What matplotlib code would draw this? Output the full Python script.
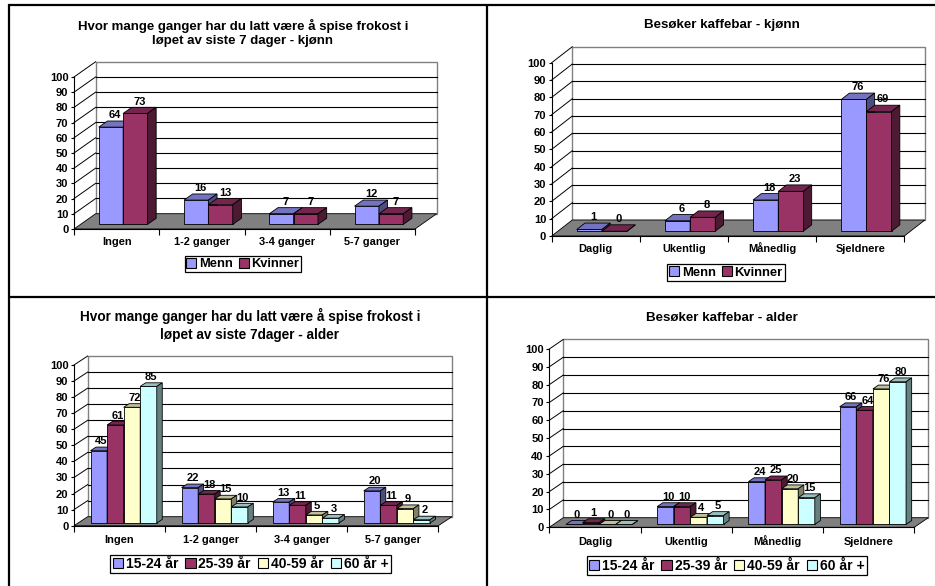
import matplotlib
matplotlib.use('Agg')
import matplotlib.pyplot as plt
from matplotlib.patches import Polygon, Rectangle, Patch
from matplotlib.colors import to_rgb

plt.rcParams['font.family'] = ['Liberation Sans', 'DejaVu Sans']
plt.rcParams['font.weight'] = 'bold'

W, H = 935, 586

# Frokost - kjønn
frokost_kat = ['Ingen', '1-2 ganger', '3-4 ganger', '5-7 ganger']
frokost_menn = [64, 16, 7, 12]
frokost_kvinner = [73, 13, 7, 7]

# Kaffebar - kjønn
kaffe_kat = ['Daglig', 'Ukentlig', 'Månedlig', 'Sjeldnere']
kaffe_menn = [1, 6, 18, 76]
kaffe_kvinner = [0, 8, 23, 69]

kjonn = ['Menn', 'Kvinner']
alder = ['15-24 år', '25-39 år', '40-59 år', '60 år +']

# Frokost - alder (en liste per aldersgruppe)
frokost_15_24 = [45, 22, 13, 20]
frokost_25_39 = [61, 18, 11, 11]
frokost_40_59 = [72, 15, 5, 9]
frokost_60 = [85, 10, 3, 2]

# Kaffebar - alder
kaffe_15_24 = [0, 10, 24, 66]
kaffe_25_39 = [1, 10, 25, 64]
kaffe_40_59 = [0, 4, 20, 76]
kaffe_60 = [0, 5, 15, 80]

farger = ['#9999FF', '#993366', '#FFFFCC', '#CCFFFF']


def shade(color, f):
    r, g, b = to_rgb(color)
    return (r * f, g * f, b * f)


fig = plt.figure(figsize=(W / 100, H / 100), dpi=100)

# table borders around the four charts
bg = fig.add_axes([0, 0, 1, 1])
bg.set_xlim(0, W)
bg.set_ylim(H, 0)
bg.axis('off')
for xs, ys in [((8.5, 8.5), (4, H)), ((486.5, 486.5), (4, H)),
               ((7.5, W), (5, 5)), ((7.5, W), (296.5, 296.5))]:
    bg.plot(xs, ys, color='black', lw=1.6, solid_capstyle='butt')


def draw_chart(frame, kategorier, serier, navn, tittel, tittel_pos, tittel_str,
               legend_pos, legend_str, label_pad):
    x0, x1, y0, y100, dxp, dyp = frame
    nk = len(kategorier)
    ax = fig.add_axes([x0 / W, 1 - y0 / H, (x1 - x0) / W, (y0 - y100) / H])
    ax.set_xlim(0, nk)
    ax.set_ylim(0, 100)
    ax.patch.set_visible(False)
    ddx = dxp / ((x1 - x0) / nk)
    ddy = dyp / ((y0 - y100) / 100)

    # walls and floor
    ax.add_patch(Polygon([(0, 0), (0, 100), (ddx, 100 + ddy), (ddx, ddy)],
                         facecolor='white', edgecolor='none', clip_on=False, zorder=0))
    ax.add_patch(Rectangle((ddx, ddy), nk, 100, facecolor='white', edgecolor='#808080',
                           lw=1.0, clip_on=False, zorder=0.5))
    for v in range(10, 100, 10):
        ax.plot([ddx, nk + ddx], [v + ddy, v + ddy], color='black', lw=0.8,
                clip_on=False, zorder=1)
    for v in range(10, 101, 10):
        ax.plot([0, ddx], [v, v + ddy], color='black', lw=0.7, clip_on=False, zorder=1)
    ax.add_patch(Polygon([(0, 0), (nk, 0), (nk + ddx, ddy), (ddx, ddy)],
                         facecolor='#808080', edgecolor='black', lw=0.6,
                         clip_on=False, zorder=1.5))

    # 3D bars
    ns = len(serier)
    w = 1 / (ns + 1.5)
    d0, bd = 0.3, 0.4
    for i in range(nk):
        for j, (verdier, c) in enumerate(zip(serier, farger)):
            v = verdier[i]
            xl = i + 0.75 * w + j * w + d0 * ddx
            yb = d0 * ddy
            ex, ey = bd * ddx, bd * ddy
            kw = dict(edgecolor='black', lw=0.6, clip_on=False, zorder=2 + i + j * 0.01)
            ax.add_patch(Rectangle((xl, yb), w, v, facecolor=c, **kw))
            ax.add_patch(Polygon([(xl, yb + v), (xl + w, yb + v), (xl + w + ex, yb + v + ey),
                                  (xl + ex, yb + v + ey)], facecolor=shade(c, 0.75), **kw))
            ax.add_patch(Polygon([(xl + w, yb), (xl + w, yb + v), (xl + w + ex, yb + v + ey),
                                  (xl + w + ex, yb + ey)], facecolor=shade(c, 0.5), **kw))
            ax.text(xl + w / 2 + ex / 2, yb + v + ey + 0.5, str(v), ha='center',
                    va='bottom', fontsize=8, zorder=20, clip_on=False)

    # axes
    for s in ['top', 'right']:
        ax.spines[s].set_visible(False)
    for s in ['left', 'bottom']:
        ax.spines[s].set_linewidth(0.8)
        ax.spines[s].set_zorder(15)
    ax.set_yticks(range(0, 101, 10))
    ax.tick_params(axis='y', length=2.5, width=0.8, pad=1.5, labelsize=8)
    ax.set_xticks(range(nk + 1))
    ax.set_xticklabels([])
    ax.set_xticks([i + 0.5 for i in range(nk)], minor=True)
    ax.set_xticklabels(kategorier, minor=True, fontsize=7.9, va='baseline')
    ax.tick_params(axis='x', which='major', length=4, width=0.8)
    ax.tick_params(axis='x', which='minor', length=0, pad=label_pad)

    fig.text(tittel_pos[0] / W, 1 - tittel_pos[1] / H, tittel, ha='center', va='center',
             fontsize=tittel_str, linespacing=1.3)

    handles = [Patch(facecolor=c, edgecolor='black', linewidth=0.8, label=n)
               for n, c in zip(navn, farger)]
    leg = fig.legend(handles=handles, loc='center',
                     bbox_to_anchor=(legend_pos[0] / W, 1 - legend_pos[1] / H),
                     ncol=len(handles), fancybox=False, edgecolor='black', framealpha=1,
                     fontsize=legend_str, handlelength=0.75, handleheight=0.75,
                     handletextpad=0.2, columnspacing=0.5, borderpad=0.15,
                     borderaxespad=0)
    leg.get_frame().set_linewidth(0.9)


draw_chart((74, 415, 229, 77, 21.7, 15.3), frokost_kat,
           [frokost_menn, frokost_kvinner], kjonn,
           'Hvor mange ganger har du latt være å spise frokost i\nløpet av siste 7 dager - kjønn',
           (243, 32.9), 9.5, (242.8, 264.3), 9.3, 11.8)

draw_chart((551.7, 904.3, 236, 62.7, 20.6, 16), kaffe_kat,
           [kaffe_menn, kaffe_kvinner], kjonn,
           'Besøker kaffebar - kjønn', (722, 25), 9.6, (726, 272.5), 9.4, 11.8)

draw_chart((74, 438.3, 525.7, 365, 13.7, 9), frokost_kat,
           [frokost_15_24, frokost_25_39, frokost_40_59, frokost_60], alder,
           'Hvor mange ganger har du latt være å spise frokost i\nløpet av siste 7dager - alder',
           (250, 325), 9.8, (250.5, 563.8), 10, 12.5)

draw_chart((549.3, 914.3, 527.3, 349, 14, 9.6), kaffe_kat,
           [kaffe_15_24, kaffe_25_39, kaffe_40_59, kaffe_60], alder,
           'Besøker kaffebar - alder', (722.3, 317.7), 9.6, (726.7, 565.5), 10, 12.5)

fig.savefig('out.png', dpi=100)
